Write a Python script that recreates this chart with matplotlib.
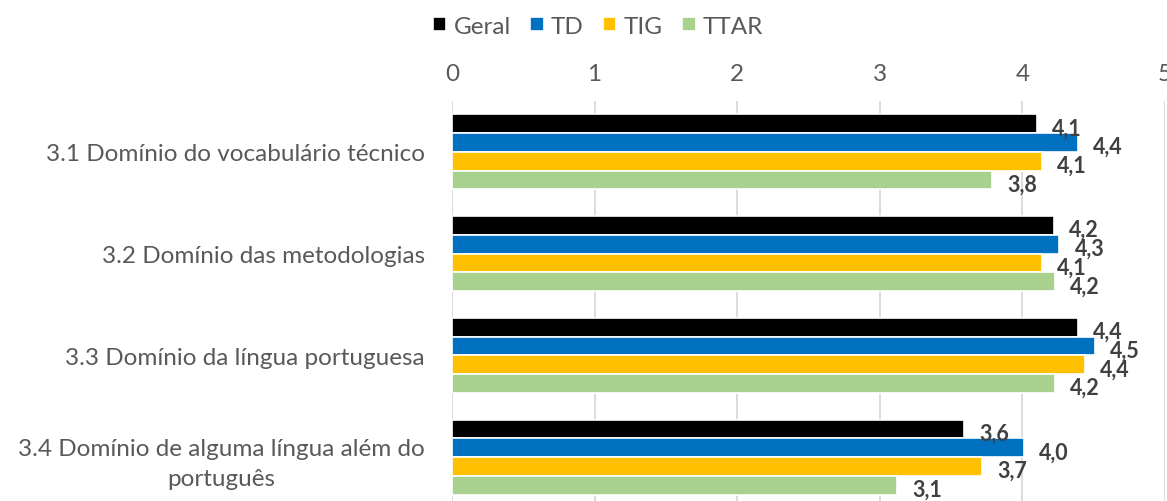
import matplotlib
matplotlib.use("Agg")
import matplotlib.pyplot as plt
import numpy as np

# categories (top to bottom) and one list of scores per course
categories = [
    "3.1 Domínio do vocabulário técnico",
    "3.2 Domínio das metodologias",
    "3.3 Domínio da língua portuguesa",
    "3.4 Domínio de alguma língua além do\nportuguês",
]
series_names = ["Geral", "TD", "TIG", "TTAR"]
geral = [4.10, 4.22, 4.39, 3.59]
td = [4.39, 4.26, 4.51, 4.01]
tig = [4.14, 4.14, 4.44, 3.72]
ttar = [3.79, 4.23, 4.23, 3.12]
colors = ["#000000", "#0070C0", "#FFC000", "#A9D18E"]

plt.rcParams['font.family'] = ['Lato', 'DejaVu Sans']

fig = plt.figure(figsize=(11.67, 5.02), dpi=100)
ax = fig.add_axes([452/1167, -7/502, 713/1167, 407/502])

y = np.arange(len(categories))
step = 0.184
allvals = [geral, td, tig, ttar]
for k, (name, vals, c) in enumerate(zip(series_names, allvals, colors)):
    pos = y + (k - 1.5)*step
    ax.barh(pos, vals, height=step, color=c, edgecolor="white", linewidth=1.2,
            label=name, zorder=3)
    for p, v in zip(pos, vals):
        ax.annotate(f"{v:.1f}".replace(".", ","), (v, p), xytext=(15, -4),
                    textcoords="offset pixels", ha="left", va="center",
                    fontsize=15.5, fontweight="bold", color="#404040",
                    annotation_clip=False, zorder=10)

ax.set_xlim(0, 5)
ax.set_ylim(3.5, -0.5)
ax.set_yticks(y)
ax.set_yticklabels(categories, fontsize=17.5, color="#595959",
                   linespacing=1.5, multialignment="center")
ax.xaxis.tick_top()
ax.set_xticks(range(6))
ax.tick_params(axis="x", length=0, pad=12, labelsize=17.5, labelcolor="#595959")
ax.tick_params(axis="y", length=0, pad=19.5)
ax.grid(axis="x", color="#d9d9d9", linewidth=1.3, zorder=0)
for s in ax.spines.values():
    s.set_visible(False)

fig.legend(loc="center", bbox_to_anchor=(598/1167, 1 - 27/502), ncol=4,
           frameon=False, fontsize=17.5, handlelength=0.55, handleheight=0.55,
           handletextpad=0.3, columnspacing=0.8, labelcolor="#595959")

fig.savefig("out.png", dpi=100)
